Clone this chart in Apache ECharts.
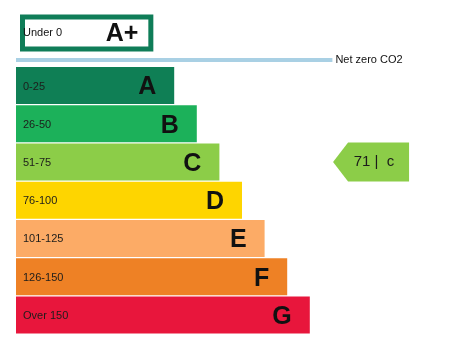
<!DOCTYPE html>
<html>
<head>
<meta charset="utf-8">
<script src="https://cdn.jsdelivr.net/npm/echarts@6/dist/echarts.min.js"></script>
<style>
  html, body { margin: 0; padding: 0; background: #fff; }
  #chart { width: 462px; height: 345px; }
</style>
</head>
<body>
<div id="chart"></div>
<script>
// rating bands, top to bottom
const bands = ['A+', 'A', 'B', 'C', 'D', 'E', 'F', 'G']
const ranges = ['Under 0', '0-25', '26-50', '51-75', '76-100', '101-125', '126-150', 'Over 150']
// bar lengths (arbitrary units, A+ is the outlined box)
const barLengths = [5.9, 7, 8, 9, 10, 11, 12, 13]
const bandColors = ['#0f7d58', '#0f7f55', '#1cb15a', '#8ccd48', '#fed500', '#fcab66', '#ee8125', '#e8163c']
const netZeroLabel = 'Net zero CO2'
const netZeroLength = 14
const currentScore = 71
const currentBand = 'C'

const font = 'Liberation Sans, Arial, sans-serif'
const xMax = 18
const arrowX = 15.71

const mainBands = bands.slice(1)
const xAxisBase = { type: 'value', min: 0, max: xMax, show: false }

const option = {
  animation: false,
  grid: [
    { left: 16, right: 39.2, top: 66.5, height: 267.5 },   // A..G
    { left: 20, right: 35.2, top: 14, height: 38 },        // A+ box
    { left: 16, right: 39.2, top: 58, height: 4 }          // net zero line
  ],
  xAxis: [
    { ...xAxisBase, gridIndex: 0 },
    { ...xAxisBase, gridIndex: 1 },
    { ...xAxisBase, gridIndex: 2 }
  ],
  yAxis: [
    { type: 'category', gridIndex: 0, data: mainBands, inverse: true, show: false },
    { type: 'category', gridIndex: 1, data: [bands[0]], show: false },
    { type: 'category', gridIndex: 2, data: ['net'], show: false }
  ],
  series: [
    {
      // coloured bands with range text
      type: 'bar',
      xAxisIndex: 0,
      yAxisIndex: 0,
      barWidth: 37,
      data: mainBands.map((b, i) => ({
        value: barLengths[i + 1],
        itemStyle: { color: bandColors[i + 1] }
      })),
      label: {
        show: true,
        position: 'insideLeft',
        distance: 7,
        offset: [0, 1],
        formatter: p => ranges[p.dataIndex + 1],
        fontFamily: font,
        fontSize: 11,
        color: '#1d1d1b'
      }
    },
    {
      // band letters
      type: 'bar',
      xAxisIndex: 0,
      yAxisIndex: 0,
      barWidth: 37,
      barGap: '-100%',
      data: barLengths.slice(1),
      itemStyle: { color: 'rgba(0,0,0,0)' },
      label: {
        show: true,
        position: 'insideRight',
        distance: 18,
        offset: [0, 2],
        formatter: p => mainBands[p.dataIndex],
        fontFamily: font,
        fontSize: 25,
        fontWeight: 'bold',
        color: '#111'
      }
    },
    {
      // A+ outlined box
      type: 'bar',
      xAxisIndex: 1,
      yAxisIndex: 1,
      barWidth: 37,
      data: [barLengths[0]],
      itemStyle: { color: '#fff', borderColor: bandColors[0], borderWidth: 5 },
      label: {
        show: true,
        position: 'insideLeft',
        distance: 3,
        formatter: ranges[0],
        fontFamily: font,
        fontSize: 11,
        color: '#111'
      }
    },
    {
      type: 'bar',
      xAxisIndex: 1,
      yAxisIndex: 1,
      barWidth: 37,
      barGap: '-100%',
      data: [barLengths[0]],
      itemStyle: { color: 'rgba(0,0,0,0)' },
      label: {
        show: true,
        position: 'insideRight',
        distance: 15,
        offset: [0, 1],
        formatter: bands[0],
        fontFamily: font,
        fontSize: 25,
        fontWeight: 'bold',
        color: '#111'
      }
    },
    {
      // net zero line
      type: 'bar',
      xAxisIndex: 2,
      yAxisIndex: 2,
      barWidth: 4,
      data: [netZeroLength],
      itemStyle: { color: '#a9d0e4' },
      label: {
        show: true,
        position: 'right',
        distance: 3,
        formatter: netZeroLabel,
        fontFamily: font,
        fontSize: 11,
        color: '#111'
      }
    },
    {
      // current rating arrow
      type: 'scatter',
      xAxisIndex: 0,
      yAxisIndex: 0,
      symbol: 'path://M0,19.5 L15,0 L76,0 L76,39 L15,39 Z',
      symbolSize: [76, 39],
      itemStyle: { color: bandColors[bands.indexOf(currentBand)], opacity: 1 },
      data: [[arrowX, currentBand]],
      label: {
        show: true,
        position: 'inside',
        offset: [3, 0],
        formatter: currentScore + ' |  ' + currentBand.toLowerCase(),
        fontFamily: font,
        fontSize: 15,
        color: '#1d1d1b'
      }
    }
  ]
}

const myChart = echarts.init(document.getElementById('chart'))
myChart.setOption(option)
</script>
</body>
</html>
